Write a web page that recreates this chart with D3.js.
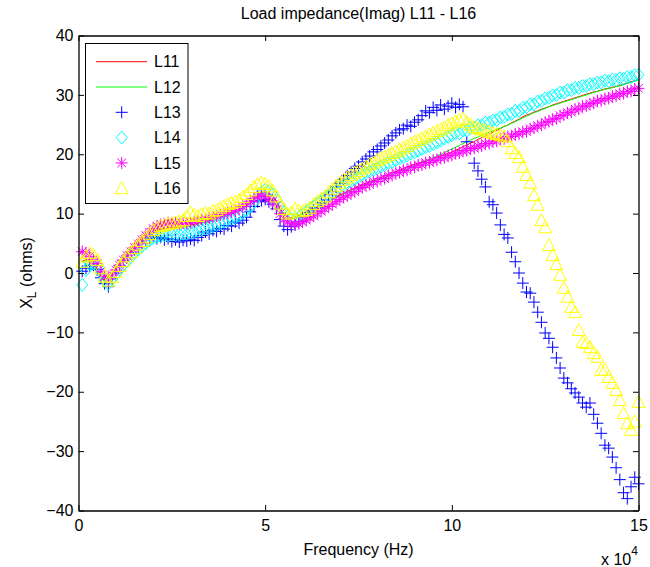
<!DOCTYPE html>
<html>
<head>
<meta charset="utf-8">
<script src="https://cdn.jsdelivr.net/npm/d3@7"></script>
<style>
  body { margin: 0; background: #fff; }
  svg { display: block; font-family: "Liberation Sans", Arial, sans-serif; }
</style>
</head>
<body>
<div id="chart-container"></div>
<script>
/**************************************************
 * Data (frequency in kHz, reactance in ohms)
 **************************************************/

const freqKHz = [
  1, 2, 3, 4, 5, 6, 7, 8, 9, 10,
  11, 12, 13, 14, 15, 16, 17, 18, 19, 20,
  21, 22, 23, 24, 25, 26, 27, 28, 29, 30,
  31, 32, 33, 34, 35, 36, 37, 38, 39, 40,
  41, 42, 43, 44, 45, 46, 47, 48, 49, 50,
  51, 52, 53, 54, 55, 56, 57, 58, 59, 60,
  61, 62, 63, 64, 65, 66, 67, 68, 69, 70,
  71, 72, 73, 74, 75, 76, 77, 78, 79, 80,
  81, 82, 83, 84, 85, 86, 87, 88, 89, 90,
  91, 92, 93, 94, 95, 96, 97, 98, 99, 100,
  101, 102, 103, 104, 105, 106, 107, 108, 109, 110,
  111, 112, 113, 114, 115, 116, 117, 118, 119, 120,
  121, 122, 123, 124, 125, 126, 127, 128, 129, 130,
  131, 132, 133, 134, 135, 136, 137, 138, 139, 140,
  141, 142, 143, 144, 145, 146, 147, 148, 149, 150
];

const L11 = [
  2.0, 2.2, 2.2, 1.5, 0.6, -0.6, -1.3, -0.8, 0.0, 0.8,
  1.5, 2.3, 3.0, 3.6, 4.2, 4.8, 5.4, 6.0, 6.6, 7.0,
  7.3, 7.4, 7.5, 7.6, 7.7, 7.7, 7.8, 7.9, 8.0, 8.1,
  8.2, 8.4, 8.6, 8.7, 8.8, 9.0, 9.2, 9.4, 9.7, 9.9,
  10.1, 10.3, 10.6, 10.9, 11.5, 12.0, 12.6, 13.3, 13.7, 13.8,
  13.5, 13.0, 12.2, 10.8, 10.0, 9.5, 9.3, 9.5, 9.7, 10.0,
  10.3, 10.7, 10.9, 11.3, 11.5, 11.9, 12.2, 12.6, 12.8, 13.2,
  13.4, 13.8, 14.0, 14.4, 14.6, 14.9, 15.1, 15.4, 15.6, 15.9,
  16.1, 16.4, 16.6, 16.9, 17.1, 17.3, 17.6, 17.8, 18.1, 18.3,
  18.5, 18.7, 18.9, 19.1, 19.3, 19.5, 19.8, 19.9, 20.2, 20.3,
  20.7, 20.9, 21.3, 21.5, 21.9, 22.1, 22.5, 22.8, 23.1, 23.4,
  23.7, 24.0, 24.3, 24.7, 24.9, 25.3, 25.6, 25.9, 26.3, 26.6,
  26.8, 27.1, 27.3, 27.6, 27.8, 28.0, 28.3, 28.5, 28.7, 28.9,
  29.1, 29.3, 29.5, 29.7, 29.9, 30.1, 30.3, 30.5, 30.6, 30.8,
  31.0, 31.1, 31.3, 31.4, 31.6, 31.8, 32.0, 32.2, 32.4, 32.6
];

const L12 = [
  1.8, 2.0, 2.0, 1.3, 0.4, -0.8, -1.5, -1.0, -0.2, 0.6,
  1.3, 2.1, 2.8, 3.4, 4.0, 4.6, 5.2, 5.8, 6.4, 6.8,
  7.1, 7.2, 7.3, 7.4, 7.5, 7.5, 7.6, 7.7, 7.8, 7.9,
  8.0, 8.2, 8.4, 8.5, 8.6, 8.8, 9.0, 9.2, 9.5, 9.7,
  9.9, 10.1, 10.4, 10.7, 11.3, 11.8, 12.4, 13.1, 13.5, 13.6,
  13.3, 12.8, 12.0, 10.6, 9.8, 9.3, 9.1, 9.3, 9.5, 9.8,
  10.1, 10.5, 10.8, 11.1, 11.4, 11.7, 12.1, 12.4, 12.7, 13.0,
  13.3, 13.6, 13.9, 14.2, 14.4, 14.7, 14.9, 15.2, 15.4, 15.7,
  15.9, 16.1, 16.4, 16.6, 16.8, 17.1, 17.3, 17.5, 17.8, 18.0,
  18.3, 18.6, 18.9, 19.1, 19.4, 19.7, 20.0, 20.3, 20.6, 20.9,
  21.2, 21.5, 21.8, 22.1, 22.4, 22.7, 22.9, 23.2, 23.4, 23.7,
  23.9, 24.2, 24.4, 24.7, 24.9, 25.2, 25.5, 25.8, 26.1, 26.4,
  26.7, 27.0, 27.2, 27.5, 27.7, 28.0, 28.2, 28.4, 28.6, 28.8,
  29.0, 29.2, 29.4, 29.6, 29.8, 30.0, 30.2, 30.4, 30.6, 30.8,
  30.9, 31.1, 31.2, 31.4, 31.5, 31.7, 31.9, 32.1, 32.3, 32.5
];

const L13 = [
  0.3, 0.8, 1.2, 1.3, 0.6, -0.8, -1.8, -2.3, -1.0, 0.0,
  1.2, 2.1, 2.6, 3.4, 4.0, 4.4, 5.0, 5.6, 5.9, 6.2,
  5.8, 6.0, 5.6, 5.8, 5.3, 5.6, 5.2, 5.5, 5.4, 5.7,
  5.5, 6.0, 6.3, 6.9, 6.6, 7.2, 7.0, 7.5, 7.4, 8.0,
  7.9, 8.6, 8.4, 8.9, 9.4, 10.3, 11.2, 12.0, 12.2, 12.4,
  12.0, 11.6, 10.8, 9.0, 7.9, 7.3, 7.8, 8.1, 8.7, 9.3,
  9.5, 10.2, 10.6, 11.0, 11.8, 12.3, 13.2, 13.7, 14.5, 15.1,
  15.8, 16.4, 17.0, 17.6, 18.0, 18.7, 19.2, 19.7, 20.4, 20.8,
  21.4, 21.9, 22.4, 23.1, 23.6, 24.1, 24.3, 24.9, 24.7, 25.4,
  25.8, 26.5, 27.3, 27.0, 27.9, 27.4, 28.3, 27.6, 28.1, 28.6,
  27.9, 28.4, 28.0, 22.1, 21.0, 18.5, 17.2, 15.8, 14.5, 12.0,
  11.5, 10.1, 8.1, 6.5, 5.9, 3.5, 1.9, 0.0, -1.7, -3.2,
  -3.4, -4.9, -6.6, -8.3, -10.1, -11.0, -12.5, -14.3, -16.0, -17.7,
  -18.5, -19.5, -20.2, -20.9, -21.9, -22.6, -21.9, -23.8, -25.3, -27.0,
  -29.0, -29.5, -31.0, -32.8, -34.8, -37.0, -38.0, -36.0, -34.4, -35.5
];

const L14 = [
  -2.0, 0.5, 1.5, 1.6, 1.2, 0.0, -1.2, -1.8, -1.0, -0.2,
  0.6, 1.4, 2.0, 2.7, 3.4, 3.9, 4.5, 5.0, 5.5, 5.9,
  6.1, 6.2, 6.4, 6.3, 6.5, 6.4, 6.5, 6.6, 6.6, 6.8,
  6.9, 7.1, 7.3, 7.5, 7.7, 7.9, 8.1, 8.4, 8.6, 8.9,
  9.1, 9.4, 9.7, 10.1, 10.6, 11.2, 12.0, 12.9, 13.6, 14.0,
  13.8, 13.2, 12.3, 11.0, 10.2, 9.5, 9.1, 9.0, 9.4, 9.9,
  10.3, 10.8, 11.2, 11.7, 12.1, 12.6, 13.1, 13.5, 13.9, 14.4,
  14.7, 15.1, 15.4, 15.8, 16.1, 16.5, 16.8, 17.1, 17.4, 17.6,
  17.9, 18.2, 18.5, 18.7, 19.0, 19.3, 19.5, 19.8, 20.1, 20.3,
  20.6, 20.9, 21.2, 21.4, 21.7, 22.0, 22.3, 22.6, 22.9, 23.2,
  23.5, 23.5, 24.0, 24.0, 24.4, 24.5, 24.9, 24.9, 25.3, 25.3,
  25.7, 25.8, 26.2, 26.3, 26.7, 26.8, 27.3, 27.3, 27.8, 27.9,
  28.4, 28.4, 28.9, 29.0, 29.4, 29.5, 29.9, 30.0, 30.4, 30.4,
  30.8, 30.8, 31.2, 31.2, 31.5, 31.5, 31.8, 31.8, 32.1, 32.1,
  32.4, 32.3, 32.6, 32.5, 32.8, 32.7, 33.0, 33.0, 33.3, 33.4
];

const L15 = [
  3.6, 3.4, 2.8, 2.2, 1.6, 0.3, -0.6, -1.0, -0.3, 0.5,
  1.3, 2.2, 2.9, 3.6, 4.3, 4.9, 5.6, 6.3, 6.9, 7.5,
  7.9, 8.2, 8.3, 8.5, 8.3, 8.4, 8.2, 8.4, 8.3, 8.5,
  8.6, 8.9, 9.0, 9.1, 9.3, 9.4, 9.6, 9.8, 9.9, 10.1,
  10.3, 10.5, 10.8, 11.2, 11.6, 12.1, 12.5, 12.9, 13.0, 12.9,
  12.6, 12.1, 11.3, 10.0, 9.1, 8.6, 8.3, 8.2, 8.3, 8.6,
  8.9, 9.3, 9.6, 10.1, 10.4, 10.8, 11.2, 11.6, 12.0, 12.4,
  12.8, 13.0, 13.5, 13.7, 14.2, 14.4, 14.8, 14.9, 15.4, 15.4,
  15.9, 15.9, 16.4, 16.4, 16.9, 16.9, 17.3, 17.3, 17.8, 17.8,
  18.2, 18.2, 18.6, 18.6, 19.0, 19.0, 19.4, 19.4, 19.8, 19.8,
  20.2, 20.2, 20.6, 20.6, 21.0, 21.0, 21.4, 21.4, 21.8, 21.8,
  22.2, 22.2, 22.6, 22.6, 23.0, 23.0, 23.4, 23.4, 23.8, 23.8,
  24.3, 24.4, 24.8, 24.9, 25.4, 25.5, 25.9, 26.0, 26.5, 26.6,
  27.0, 27.1, 27.6, 27.6, 28.1, 28.1, 28.5, 28.6, 29.0, 29.0,
  29.4, 29.4, 29.8, 29.8, 30.2, 30.2, 30.6, 30.6, 31.0, 31.1
];

const L16 = [
  1.9, 2.8, 3.4, 3.0, 2.2, 0.8, -0.6, -1.3, -0.7, 0.2,
  1.2, 2.0, 2.8, 3.5, 4.2, 4.8, 5.4, 6.0, 6.6, 7.2,
  7.6, 7.9, 8.1, 8.3, 8.4, 8.5, 8.7, 8.9, 9.6, 10.2,
  9.8, 9.6, 9.9, 10.1, 10.0, 10.4, 10.6, 11.0, 11.3, 11.6,
  11.8, 12.0, 12.3, 12.8, 13.3, 13.9, 14.5, 15.0, 15.2, 15.0,
  14.6, 13.9, 12.9, 11.7, 10.8, 10.0, 10.2, 10.8, 10.5, 10.4,
  10.6, 11.0, 11.6, 12.1, 12.5, 12.9, 13.6, 14.2, 14.7, 15.2,
  15.7, 16.1, 16.5, 16.9, 17.2, 17.6, 17.9, 18.3, 18.6, 19.0,
  19.3, 19.6, 19.9, 20.2, 20.5, 20.8, 21.1, 21.4, 21.8, 22.1,
  22.4, 22.7, 23.0, 23.3, 23.6, 23.9, 24.2, 24.5, 24.9, 25.2,
  25.5, 25.8, 26.0, 25.4, 25.0, 24.6, 24.4, 24.2, 24.0, 23.8,
  23.6, 23.4, 23.2, 23.0, 22.2, 21.0, 20.2, 19.5, 17.9, 16.5,
  15.2, 13.1, 11.5, 8.9, 7.7, 4.7, 3.0, 1.5, -0.3, -2.5,
  -4.0, -5.7, -6.6, -9.6, -11.6, -11.8, -12.5, -13.5, -14.1, -16.3,
  -16.3, -17.5, -18.5, -19.7, -21.4, -23.6, -25.3, -26.4, -25.0, -21.7
];

const seriesNames = ["L11", "L12", "L13", "L14", "L15", "L16"];
const xTickValues = [0, 50, 100, 150];
const xTickLabels = ["0", "5", "10", "15"];
const yTickValues = [-40, -30, -20, -10, 0, 10, 20, 30, 40];

/**************************************************
 * Styles
 **************************************************/

const seriesStyle = {
  L11: { color: "#ff0000", kind: "line" },
  L12: { color: "#00ff00", kind: "line" },
  L13: { color: "#0000ff", kind: "marker", path: "M-6,0H6M0,-6V6" },
  L14: { color: "#00ffff", kind: "marker", path: "M0,-6.5L5.5,0L0,6.5L-5.5,0Z" },
  L15: { color: "#ff00ff", kind: "marker", path: "M-6,0H6M0,-6V6M-4.3,-4.3L4.3,4.3M-4.3,4.3L4.3,-4.3" },
  L16: { color: "#ffff00", kind: "marker", path: "M0,-6.5L6.5,5.5L-6.5,5.5Z" }
};
const seriesValues = { L11, L12, L13, L14, L15, L16 };

seriesNames.forEach(n => {
  if (seriesValues[n].length !== freqKHz.length) {
    throw new Error(n + " has " + seriesValues[n].length + " values, expected " + freqKHz.length);
  }
});

/**************************************************
 * Rendering
 **************************************************/

const width = 650, height = 567;
const plotLeft = 78.5, plotRight = 638.5, plotTop = 35.5, plotBottom = 510.5;
const tickLen = 5.5;

const svg = d3.select("#chart-container")
  .append("svg")
  .attr("width", width)
  .attr("height", height);

svg.append("rect")
  .attr("width", width)
  .attr("height", height)
  .attr("fill", "#fff");

const x = d3.scaleLinear().domain([0, 150]).range([plotLeft, plotRight]);
const y = d3.scaleLinear().domain([-40, 40]).range([plotBottom, plotTop]);

// series
seriesNames.forEach(name => {
  const st = seriesStyle[name];
  const vals = seriesValues[name];
  const pts = freqKHz.map((f, i) => [f, vals[i]]);
  if (st.kind === "line") {
    svg.append("path")
      .datum(pts)
      .attr("fill", "none")
      .attr("stroke", st.color)
      .attr("stroke-width", 1)
      .attr("d", d3.line().x(d => x(d[0])).y(d => y(d[1])));
  } else {
    svg.append("g")
      .selectAll("path")
      .data(pts)
      .join("path")
      .attr("transform", d => `translate(${x(d[0])},${y(d[1])})`)
      .attr("d", st.path)
      .attr("fill", "none")
      .attr("stroke", st.color)
      .attr("stroke-width", 1);
  }
});

// axes box with inward ticks
function styleAxis(g) {
  g.selectAll("path.domain").attr("stroke", "#000").attr("stroke-width", 1.3);
  g.selectAll(".tick line").attr("stroke", "#000").attr("stroke-width", 1);
  g.selectAll(".tick text").attr("fill", "#000").attr("font-size", 16)
    .attr("font-family", "Liberation Sans, Arial, sans-serif");
}

svg.append("g")
  .attr("transform", `translate(0,${plotBottom})`)
  .call(d3.axisBottom(x).tickValues(xTickValues)
    .tickFormat((d, i) => xTickLabels[i])
    .tickSizeInner(-tickLen).tickSizeOuter(0).tickPadding(9))
  .call(styleAxis);

svg.append("g")
  .attr("transform", `translate(0,${plotTop})`)
  .call(d3.axisTop(x).tickValues(xTickValues).tickFormat("")
    .tickSizeInner(-tickLen).tickSizeOuter(0))
  .call(styleAxis);

svg.append("g")
  .attr("transform", `translate(${plotLeft},0)`)
  .call(d3.axisLeft(y).tickValues(yTickValues)
    .tickSizeInner(-tickLen).tickSizeOuter(0).tickPadding(5))
  .call(styleAxis);

svg.append("g")
  .attr("transform", `translate(${plotRight},0)`)
  .call(d3.axisRight(y).tickValues(yTickValues).tickFormat("")
    .tickSizeInner(-tickLen).tickSizeOuter(0))
  .call(styleAxis);

// title and labels
svg.append("text")
  .attr("x", (plotLeft + plotRight) / 2)
  .attr("y", 19)
  .attr("text-anchor", "middle")
  .attr("font-size", 16)
  .text("Load impedance(Imag) L11 - L16");

svg.append("text")
  .attr("x", (plotLeft + plotRight) / 2)
  .attr("y", 555)
  .attr("text-anchor", "middle")
  .attr("font-size", 16)
  .text("Frequency (Hz)");

const expo = svg.append("text")
  .attr("x", 601)
  .attr("y", 565)
  .attr("font-size", 16);
expo.append("tspan").text("x 10");
expo.append("tspan").attr("font-size", 12).attr("dy", -10).text("4");

const ylab = svg.append("text")
  .attr("transform", `translate(32,${(plotTop + plotBottom) / 2}) rotate(-90)`)
  .attr("text-anchor", "middle")
  .attr("font-size", 16);
ylab.append("tspan").text("X");
ylab.append("tspan").attr("font-size", 12).attr("dy", 4).text("L");
ylab.append("tspan").attr("dy", -4).text(" (ohms)");

// legend
const legX = 85.5, legY = 43.5, legW = 102.5, legH = 160;
const legend = svg.append("g");
legend.append("rect")
  .attr("x", legX).attr("y", legY)
  .attr("width", legW).attr("height", legH)
  .attr("fill", "#fff")
  .attr("stroke", "#000")
  .attr("stroke-width", 1);

seriesNames.forEach((name, i) => {
  const st = seriesStyle[name];
  const cy = 61.7 + i * 25.3;
  if (st.kind === "line") {
    legend.append("line")
      .attr("x1", 96).attr("x2", 147)
      .attr("y1", cy).attr("y2", cy)
      .attr("stroke", st.color).attr("stroke-width", 1);
  } else {
    legend.append("path")
      .attr("transform", `translate(121.7,${cy})`)
      .attr("d", st.path)
      .attr("fill", "none")
      .attr("stroke", st.color)
      .attr("stroke-width", 1);
  }
  legend.append("text")
    .attr("x", 154)
    .attr("y", cy)
    .attr("dy", "0.36em")
    .attr("font-size", 16)
    .text(name);
});
</script>
</body>
</html>
